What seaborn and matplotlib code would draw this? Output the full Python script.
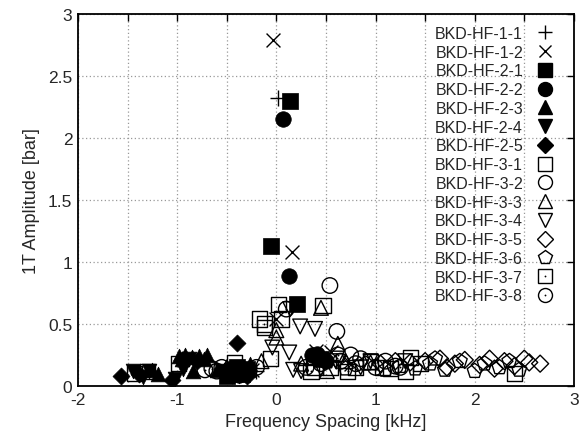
import matplotlib
matplotlib.use("Agg")
import matplotlib.pyplot as plt
from matplotlib.lines import Line2D
from matplotlib.legend_handler import HandlerTuple
from matplotlib.ticker import MultipleLocator
import seaborn as sns
import pandas as pd

# ---------------- data ----------------
series_names = ["BKD-HF-1-1", "BKD-HF-1-2", "BKD-HF-2-1", "BKD-HF-2-2", "BKD-HF-2-3",
                "BKD-HF-2-4", "BKD-HF-2-5", "BKD-HF-3-1", "BKD-HF-3-2", "BKD-HF-3-3",
                "BKD-HF-3-4", "BKD-HF-3-5", "BKD-HF-3-6", "BKD-HF-3-7", "BKD-HF-3-8"]

hf11_x = [0.02, -0.35, -0.20, 0.30, 0.60]
hf11_y = [2.32, 0.14, 0.12, 0.17, 0.20]
hf12_x = [-0.03, 0.16, 0.00, 0.55, 0.40, -0.25, 0.75]
hf12_y = [2.79, 1.08, 0.54, 0.27, 0.28, 0.13, 0.18]
hf21_x = [0.14, -0.05, 0.21, -0.45, -0.35, -0.30, -0.50, 0.45, -0.40]
hf21_y = [2.30, 1.13, 0.66, 0.12, 0.10, 0.14, 0.08, 0.22, 0.15]
hf22_x = [0.07, 0.13, 0.41, 0.36, -0.42, -0.32, -0.48, 0.50, -0.38]
hf22_y = [2.15, 0.89, 0.26, 0.25, 0.11, 0.13, 0.14, 0.20, 0.09]
hf23_x = [-0.98, -0.92, -0.85, -0.78, -0.70, -1.19, -0.84, -0.73, -0.27, -0.60, -1.25, -0.95]
hf23_y = [0.24, 0.25, 0.23, 0.24, 0.25, 0.10, 0.12, 0.22, 0.18, 0.13, 0.13, 0.22]
hf24_x = [-1.34, -1.45, -0.94, -1.02, -0.55, -0.38, -0.88, -1.28]
hf24_y = [0.07, 0.12, 0.14, 0.06, 0.12, 0.08, 0.22, 0.12]
hf25_x = [-1.57, -1.05, -0.40, -0.95, -0.45, -1.38, -0.80, -0.30, -0.52]
hf25_y = [0.08, 0.05, 0.35, 0.21, 0.09, 0.10, 0.20, 0.08, 0.12]
hf31_x = [0.02, -0.17, 0.05, -0.12, 0.47, -1.43, -0.99, -0.42, -0.06, 0.39, 1.07, 1.35, 0.80, -1.30]
hf31_y = [0.66, 0.54, 0.54, 0.47, 0.65, 0.10, 0.18, 0.19, 0.22, 0.15, 0.15, 0.23, 0.15, 0.12]
hf32_x = [0.54, 0.61, 0.65, 0.85, 1.00, 0.30, 1.20, 0.75]
hf32_y = [0.81, 0.44, 0.20, 0.22, 0.15, 0.15, 0.16, 0.25]
hf33_x = [0.45, 0.00, 0.00, 0.62, 0.51, 0.70, -0.50, 0.95, 0.25, -0.15]
hf33_y = [0.63, 0.39, 0.45, 0.34, 0.12, 0.20, 0.15, 0.19, 0.18, 0.20]
hf34_x = [0.24, 0.39, -0.04, 0.13, 0.14, 0.17, 0.25, 0.60, 0.85, 0.95, 0.45, 1.30]
hf34_y = [0.48, 0.46, 0.31, 0.27, 0.62, 0.13, 0.12, 0.20, 0.15, 0.20, 0.14, 0.20]
hf35_x = [1.05, 1.20, 1.35, 1.50, 1.65, 1.80, 1.90, 2.05, 2.15, 2.30, 2.40, 2.50, 2.55, 2.66, 1.72, 2.20]
hf35_y = [0.18, 0.20, 0.19, 0.20, 0.22, 0.18, 0.21, 0.17, 0.22, 0.20, 0.16, 0.22, 0.19, 0.18, 0.15, 0.14]
hf36_x = [0.90, 1.10, 1.25, 1.40, 1.55, 1.70, 1.85, 2.00, 2.10, 2.25, 2.35, 2.45, 1.60, 0.70]
hf36_y = [0.18, 0.13, 0.16, 0.14, 0.18, 0.13, 0.20, 0.12, 0.18, 0.15, 0.20, 0.13, 0.22, 0.14]
hf37_x = [0.55, 0.72, 0.95, 1.15, 1.30, 1.45, 2.40, 0.35, -0.12]
hf37_y = [0.15, 0.12, 0.20, 0.14, 0.12, 0.18, 0.10, 0.12, 0.50]
hf38_x = [-0.72, -0.65, -0.60, -0.55, 0.10, 0.62, 0.80, 1.10, 0.45, 1.25, -0.20]
hf38_y = [0.13, 0.14, 0.12, 0.15, 0.62, 0.25, 0.18, 0.20, 0.18, 0.15, 0.15]

xs = [hf11_x, hf12_x, hf21_x, hf22_x, hf23_x, hf24_x, hf25_x, hf31_x,
      hf32_x, hf33_x, hf34_x, hf35_x, hf36_x, hf37_x, hf38_x]
ys = [hf11_y, hf12_y, hf21_y, hf22_y, hf23_y, hf24_y, hf25_y, hf31_y,
      hf32_y, hf33_y, hf34_y, hf35_y, hf36_y, hf37_y, hf38_y]

x_ticks = [-2, -1, 0, 1, 2, 3]
y_ticks = [0, 0.5, 1, 1.5, 2, 2.5, 3]
y_tick_labels = ["0", "0.5", "1", "1.5", "2", "2.5", "3"]

# style per series: (marker, kind)  kind: 'line', 'filled', 'open', 'dot'
styles = [("+", "line"), ("x", "line"), ("s", "filled"), ("o", "filled"), ("^", "filled"),
          ("v", "filled"), ("D", "filled"), ("s", "open"), ("o", "open"), ("^", "open"),
          ("v", "open"), ("D", "open"), ("p", "open"), ("s", "dot"), ("o", "dot")]

rows = []
for name, sx, sy in zip(series_names, xs, ys):
    for a, b in zip(sx, sy):
        rows.append({"series": name, "x": a, "y": b})
df = pd.DataFrame(rows)

# ---------------- plot ----------------
sns.set_theme(style="white")
plt.rcParams["font.family"] = ["Liberation Sans", "DejaVu Sans"]

fig = plt.figure(figsize=(5.82, 4.39), dpi=100)
ax = fig.add_axes([0.134, 0.1185, 0.852, 0.8475])

S = 125
size_adj = {"D": 0.6, "p": 1.0, "s": 0.95, "o": 1.0, "^": 0.9, "v": 0.9, "+": 1.0, "x": 0.8}
handles = []
for name, (mk, kind) in zip(series_names, styles):
    sub = df[df["series"] == name]
    s = S * size_adj[mk]
    ms = s ** 0.5 * 0.9
    if kind == "line":
        sns.scatterplot(data=sub, x="x", y="y", marker=mk, s=s, color="black",
                        linewidth=1.0, ax=ax, legend=False, zorder=3)
        h = Line2D([], [], ls="none", marker=mk, color="black", markersize=ms, mew=1.0)
    elif kind == "filled":
        sns.scatterplot(data=sub, x="x", y="y", marker=mk, s=s, color="black",
                        edgecolor="black", linewidth=0.5, ax=ax, legend=False, zorder=3)
        h = Line2D([], [], ls="none", marker=mk, color="black", markersize=ms)
    else:
        sns.scatterplot(data=sub, x="x", y="y", marker=mk, s=s, facecolor="none",
                        edgecolor="black", linewidth=1.0, ax=ax, legend=False, zorder=3)
        h = Line2D([], [], ls="none", marker=mk, mfc="none", mec="black",
                   markersize=ms, mew=1.0)
        if kind == "dot":
            sns.scatterplot(data=sub, x="x", y="y", marker="o", s=2, color="black",
                            linewidth=0, ax=ax, legend=False, zorder=3)
            d = Line2D([], [], ls="none", marker="o", color="black", markersize=1.3, mew=0)
            h = (h, d)
    handles.append(h)

ax.set_xlim(-2, 3)
ax.set_ylim(0, 3)
ax.xaxis.set_major_locator(MultipleLocator(1))
ax.xaxis.set_minor_locator(MultipleLocator(0.5))
ax.set_yticks(y_ticks)
ax.set_yticklabels(y_tick_labels)
ax.set_xticks(x_ticks)
ax.set_xticklabels([str(t) for t in x_ticks])

ax.grid(True, which="both", axis="x", color="#999999", linestyle=(0, (1, 2)), linewidth=0.9)
ax.grid(True, which="major", axis="y", color="#999999", linestyle=(0, (1, 2)), linewidth=0.9)
ax.set_axisbelow(True)

ax.tick_params(which="both", direction="in", top=True, right=True, length=5, width=1.0,
               color="black", labelsize=12.5, pad=4)
for sp in ax.spines.values():
    sp.set_color("black")
    sp.set_linewidth(1.3)

ax.set_xlabel("Frequency Spacing [kHz]", fontsize=13, labelpad=5)
ax.set_ylabel("1T Amplitude [bar]", fontsize=13, labelpad=6)

ax.legend(handles, series_names, loc="upper right", frameon=False, markerfirst=False,
          fontsize=11.5, handlelength=1.2, handletextpad=0.8, labelspacing=0.235,
          borderaxespad=0.0, bbox_to_anchor=(0.975, 0.985),
          handler_map={tuple: HandlerTuple(ndivide=1)})

fig.savefig("out.png", dpi=100)
